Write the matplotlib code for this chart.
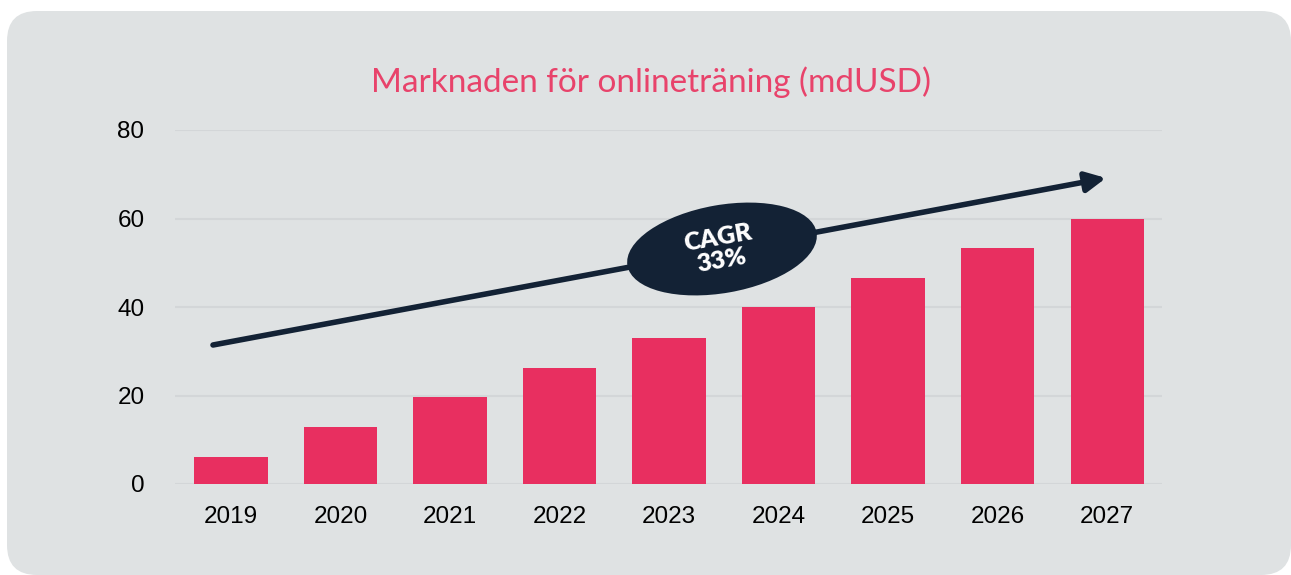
import matplotlib.pyplot as plt
from matplotlib.patches import FancyBboxPatch, Ellipse

# data
years = ['2019', '2020', '2021', '2022', '2023', '2024', '2025', '2026', '2027']
market = [6.1, 12.9, 19.7, 26.2, 33.0, 40.0, 46.6, 53.3, 60.0]
y_ticks = [0, 20, 40, 60, 80]
title = 'Marknaden för onlineträning (mdUSD)'
cagr_label = 'CAGR\n33%'

bar_color = '#e82f60'
title_color = '#e8436b'
navy = '#132235'
panel_color = '#dfe2e3'
grid_color = '#d3d6d8'

W, H = 1291, 575
fig = plt.figure(figsize=(W / 100, H / 100), dpi=100)
fig.patch.set_facecolor('white')

# background panel, drawn in pixel space
bg = fig.add_axes([0, 0, 1, 1], zorder=0)
bg.set_xlim(0, W)
bg.set_ylim(H, 0)
bg.axis('off')
bg.add_patch(FancyBboxPatch((7 + 30, 11 + 30), W - 7 - 60, H - 11 - 60,
                            boxstyle='round,pad=30', facecolor=panel_color,
                            edgecolor='none'))

# bar chart
ax = fig.add_axes([175 / W, 91 / H, (1162 - 175) / W, 354 / H], zorder=1)
ax.set_facecolor('none')
x = range(len(years))
ax.bar(x, market, width=0.67, color=bar_color, zorder=3)
ax.set_xlim(-0.51, 8.5)
ax.set_ylim(0, 80)
ax.set_yticks(y_ticks)
ax.set_xticks(list(x))
ax.set_xticklabels(years)
ax.grid(axis='y', color=grid_color, linewidth=1.5, zorder=0)
ax.set_axisbelow(True)
for s in ax.spines.values():
    s.set_visible(False)
ax.tick_params(length=0, labelsize=17.5, labelcolor='black')
ax.tick_params(axis='x', pad=16)
ax.tick_params(axis='y', pad=22)
for lab in ax.get_xticklabels() + ax.get_yticklabels():
    lab.set_family(['Liberation Sans', 'DejaVu Sans'])

fig.text(651 / W, 1 - 82 / H, title, ha='center', va='center',
         color=title_color, fontsize=24,
         family=['Lato', 'DejaVu Sans'])

# CAGR arrow and badge, in pixel space on top
fg = fig.add_axes([0, 0, 1, 1], zorder=2)
fg.set_facecolor('none')
fg.set_xlim(0, W)
fg.set_ylim(H, 0)
fg.axis('off')
fg.annotate('', xy=(1106, 178), xytext=(213, 345),
            arrowprops=dict(arrowstyle='-|>,head_length=1.2,head_width=0.6',
                            lw=4, color=navy, shrinkA=0, shrinkB=0))
fg.add_patch(Ellipse((722, 249), 192, 88, angle=-10, facecolor=navy,
                     edgecolor='none', zorder=5))
fg.text(720, 249, cagr_label, ha='center', va='center', rotation=10,
        color='white', fontsize=18, fontweight='heavy', linespacing=1.05,
        family=['Lato', 'DejaVu Sans'], zorder=6)

fig.savefig('out.png', dpi=100, facecolor='white')
